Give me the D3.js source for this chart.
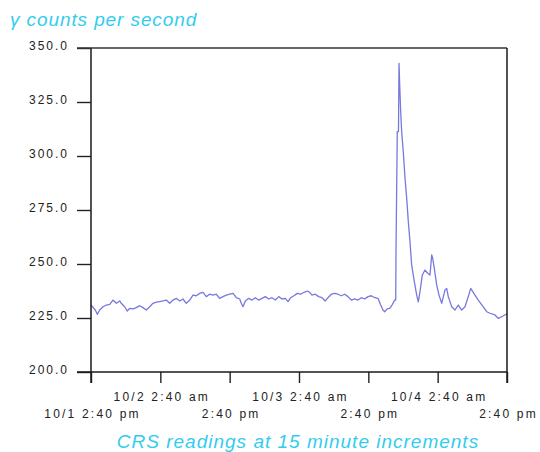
<!DOCTYPE html>
<html>
<head>
<meta charset="utf-8">
<script src="https://cdn.jsdelivr.net/npm/d3@7"></script>
<style>
  html, body { margin: 0; padding: 0; background: #fff; }
  svg { display: block; }
  text { font-family: "Liberation Sans", Arial, sans-serif; }
</style>
</head>
<body>
<svg id="chart" width="540" height="452"></svg>
<script>
// ---- data ----
const startTime = new Date(2007, 9, 1, 14, 40); // 10/1 2:40 pm
// hours after start
const hours = [0.00,0.74,1.09,1.51,2.08,2.65,3.24,3.81,4.38,4.97,5.24,5.83,6.28,6.70,7.27,7.84,8.43,9.00,9.57,10.16,10.73,11.30,11.89,12.46,13.03,13.62,14.19,14.76,15.35,15.92,16.49,17.08,17.65,18.22,18.81,19.38,19.96,20.54,21.12,21.69,22.27,22.85,23.42,24.01,24.58,25.15,25.74,
  26.01,26.31,26.71,27.29,27.87,28.44,29.02,29.60,30.17,30.76,31.33,31.90,32.49,33.06,33.63,34.10,34.56,35.13,35.71,36.29,36.87,37.44,37.85,38.25,38.82,39.41,39.98,40.55,41.02,41.59,42.18,42.75,43.32,43.91,44.48,45.05,45.64,46.21,46.78,47.37,47.94,48.51,49.10,49.67,50.14,50.54,50.83,51.28,51.70,52.10,52.56,52.74,
  52.79,53.01,53.22,53.31,53.43,53.60,53.77,54.05,54.35,54.64,54.92,55.21,55.50,55.96,56.37,56.65,56.94,57.34,57.81,58.28,58.67,58.97,59.14,59.42,59.83,60.23,60.70,61.27,61.56,61.84,62.43,63.00,63.57,64.16,64.73,65.30,65.72,66.46,67.03,67.90,68.49,69.06,69.92,70.50,71.08,71.65,72.00];
// gamma counts per second
const counts = [231.0,228.7,226.7,228.7,230.2,231.0,231.3,233.3,231.8,232.9,231.8,230.2,228.2,229.5,229.2,229.8,230.7,229.8,228.7,230.2,231.8,232.3,232.6,232.9,233.3,231.8,233.3,234.1,232.9,233.8,231.8,233.3,235.6,235.3,236.4,236.9,234.9,236.0,235.6,236.0,234.1,234.9,235.6,236.0,236.4,234.4,233.8,
  231.8,230.2,232.9,234.1,233.3,234.4,233.3,234.1,234.9,233.8,234.4,233.3,234.9,233.8,234.1,232.6,234.4,235.3,236.4,236.0,236.9,237.5,236.9,235.6,236.0,234.9,234.4,232.9,234.4,236.0,236.4,236.0,235.3,236.0,234.9,233.3,233.8,233.3,234.4,233.8,234.9,235.3,234.4,234.1,231.0,228.7,227.9,229.2,229.5,231.0,233.3,233.3,
  256.5,311.3,311.3,342.9,332.9,320.5,311.3,302.0,289.7,280.4,269.6,260.3,249.5,241.8,235.6,232.5,237.2,244.9,247.2,245.7,244.9,254.2,252.6,248.0,240.3,235.6,231.8,238.0,238.7,234.9,230.2,228.7,231.0,228.7,230.2,234.9,238.7,235.6,233.3,230.2,227.9,227.2,226.4,224.8,225.6,226.4,226.9];
const yTicks = [200, 225, 250, 275, 300, 325, 350];
const xTickHours = [0, 12, 24, 36, 48, 60, 72];
const xTickLabels = ["10/1 2:40 pm", "10/2 2:40 am", "2:40 pm", "10/3 2:40 am", "2:40 pm", "10/4 2:40 am", "2:40 pm"];
const yTitle = "\u03b3 counts per second";
const xTitle = "CRS readings at 15 minute increments";

// ---- layout ----
const svg = d3.select("#chart");
const L = 91, R = 507, T = 48, B = 372;
const toDate = h => new Date(startTime.getTime() + h * 3600e3);

const x = d3.scaleTime().domain([toDate(0), toDate(72)]).range([L, R]);
const y = d3.scaleLinear().domain([200, 350]).range([B, T]);

const data = hours.map((h, i) => ({ t: toDate(h), v: counts[i] }));

// line
svg.append("path")
  .datum(data)
  .attr("fill", "none")
  .attr("stroke", "#7878de")
  .attr("stroke-width", 1.3)
  .attr("stroke-linejoin", "round")
  .attr("d", d3.line().x(d => x(d.t)).y(d => y(d.v)));

// y axis
const yAxis = svg.append("g")
  .attr("transform", `translate(${L},0)`)
  .call(d3.axisLeft(y).tickValues(yTicks).tickSize(14).tickPadding(8).tickFormat(d3.format(".1f")));
yAxis.select(".domain").remove();
yAxis.selectAll("line").attr("stroke", "#222").attr("stroke-width", 1.4);
yAxis.selectAll("text")
  .attr("fill", "#222")
  .attr("dy", "1px")
  .style("font-size", "12px")
  .style("letter-spacing", "2px");

// x axis
const xAxis = svg.append("g")
  .attr("transform", `translate(0,${B})`)
  .call(d3.axisBottom(x).tickValues(xTickHours.map(toDate)).tickSize(11).tickFormat(""));
xAxis.select(".domain").remove();
xAxis.selectAll("line").attr("stroke", "#222").attr("stroke-width", 1.4);
xAxis.selectAll(".tick").append("text")
  .attr("fill", "#222")
  .attr("text-anchor", "middle")
  .attr("x", 1)
  .attr("y", (d, i) => i % 2 === 1 ? 29 : 46)
  .style("font-size", "12px")
  .style("letter-spacing", "2.2px")
  .text((d, i) => xTickLabels[i]);

// frame: left axis, bottom axis, top, right
const frame = svg.append("g").attr("stroke", "#1a1a1a").attr("stroke-width", 1.5).attr("fill", "none");
frame.append("line").attr("x1", L).attr("x2", L).attr("y1", T).attr("y2", B + 11);
frame.append("line").attr("x1", L - 14).attr("x2", R).attr("y1", B).attr("y2", B);
frame.append("line").attr("x1", L - 14).attr("x2", R).attr("y1", T).attr("y2", T).attr("stroke", "#333");
frame.append("line").attr("x1", R).attr("x2", R).attr("y1", T).attr("y2", B + 11);

// titles
svg.append("text")
  .attr("x", 10).attr("y", 26)
  .attr("fill", "#33ccee")
  .style("font-size", "19px")
  .style("font-style", "italic")
  .style("letter-spacing", "0.9px")
  .text(yTitle);

svg.append("text")
  .attr("x", 298).attr("y", 448)
  .attr("text-anchor", "middle")
  .attr("fill", "#33ccee")
  .style("font-size", "19px")
  .style("font-style", "italic")
  .style("letter-spacing", "1px")
  .text(xTitle);
</script>
</body>
</html>
